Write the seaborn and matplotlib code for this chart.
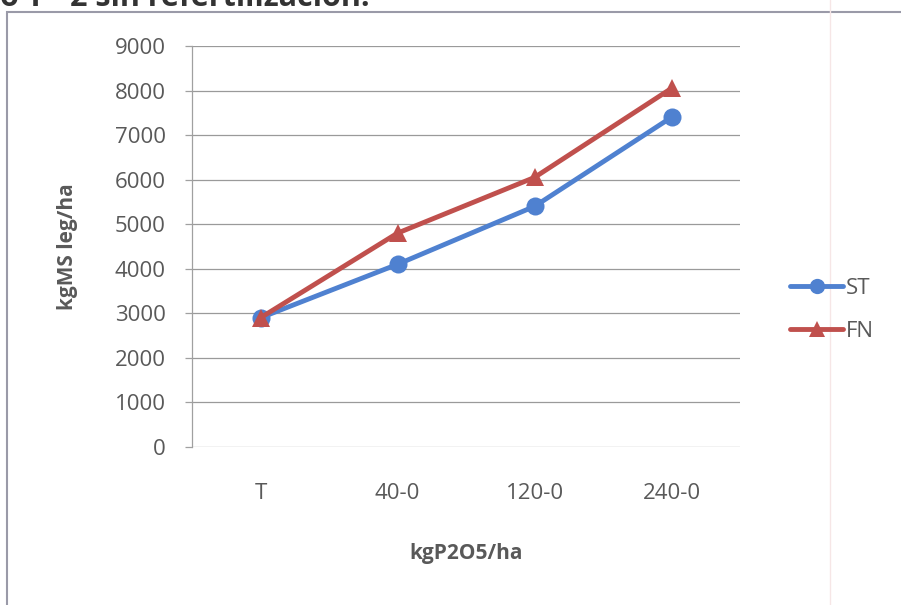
import matplotlib
matplotlib.use("Agg")
import matplotlib.pyplot as plt
import seaborn as sns
import pandas as pd
from matplotlib.patches import Rectangle
from matplotlib.lines import Line2D

# Doses of P2O5 and dry matter yields for both series
doses = ["T", "40-0", "120-0", "240-0"]
st_values = [2900, 4100, 5400, 7400]
fn_values = [2900, 4800, 6050, 8050]
series_names = ["ST", "FN"]
y_ticks = [0, 1000, 2000, 3000, 4000, 5000, 6000, 7000, 8000, 9000]

df = pd.DataFrame({
    "dosis": doses * 2,
    "rend": st_values + fn_values,
    "serie": [series_names[0]] * len(doses) + [series_names[1]] * len(doses),
})

sns.set_theme(style="white")
plt.rcParams["font.family"] = ["Open Sans", "DejaVu Sans"]

blue = "#4f81d0"
red = "#c0504d"
text_col = "#595959"

fig = plt.figure(figsize=(9.01, 6.05), dpi=100)
ax = fig.add_axes([192 / 901, 1 - 447 / 605, 548 / 901, 401 / 605])

sns.lineplot(data=df, x="dosis", y="rend", hue="serie", style="serie",
             palette={"ST": blue, "FN": red},
             markers={"ST": "o", "FN": "^"}, dashes=False,
             markersize=13, linewidth=3.5, markeredgewidth=0,
             sort=False, legend=False, ax=ax)

ax.set_xlim(-0.5, len(doses) - 0.5)
ax.set_ylim(0, 9000)
ax.set_yticks(y_ticks)
ax.set_yticklabels([str(v) for v in y_ticks])
ax.yaxis.grid(True, color="#9a9a9a", linewidth=0.9)
ax.xaxis.grid(False)
for side in ["top", "right", "bottom"]:
    ax.spines[side].set_visible(False)
ax.spines["left"].set_color("#a0a0a0")
ax.spines["left"].set_linewidth(0.9)
ax.tick_params(axis="y", which="major", left=True, length=5, width=0.9,
               color="#a0a0a0", labelsize=16, labelcolor=text_col, pad=14)
ax.tick_params(axis="x", bottom=False, labelsize=16, labelcolor=text_col, pad=20)
ax.set_xlabel("kgP2O5/ha", fontsize=15, fontweight="bold", color=text_col, labelpad=28)
ax.set_ylabel("kgMS leg/ha", fontsize=15, fontweight="bold", color=text_col, labelpad=26)

# Legend on the right of the plot area
handles = [
    Line2D([0], [0], color=blue, marker="o", markersize=11, linewidth=3.5,
           markeredgewidth=0),
    Line2D([0], [0], color=red, marker="^", markersize=12, linewidth=3.5,
           markeredgewidth=0),
]
fig.legend(handles, series_names, loc="center left",
           bbox_to_anchor=(770 / 901, 1 - 310 / 605), frameon=False,
           fontsize=16, labelcolor=text_col, handlelength=2.4,
           handletextpad=0.1, labelspacing=1.0)

# Chart frame
fig.patches.append(Rectangle((7 / 901, -0.05), 1.0, 1 - 12 / 605 + 0.05,
                             transform=fig.transFigure, fill=False,
                             edgecolor="#9a9aa8", linewidth=1.5))
fig.lines.append(Line2D([830 / 901, 830 / 901], [0, 1], transform=fig.transFigure,
                        color="#f6e6e6", linewidth=1.0))

# Heading above the frame, running past the top of the page
fig.text(0.0, 1 - 6 / 605, "o T - 2 sin refertilización:", fontsize=22,
         fontweight="bold", color="#333333", va="baseline", ha="left")

fig.savefig("out.png", dpi=100)
